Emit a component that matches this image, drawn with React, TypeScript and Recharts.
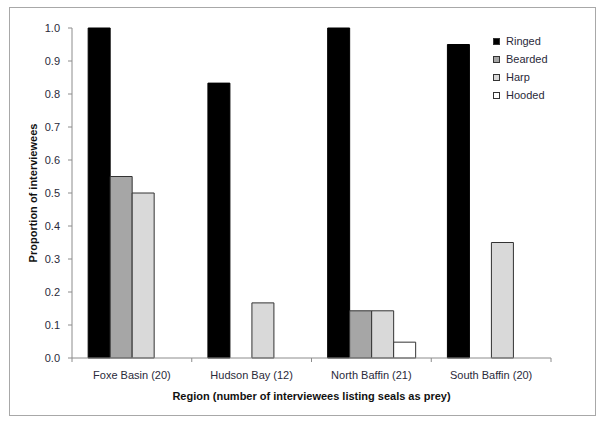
import React from 'react';
import { BarChart, Bar, XAxis, YAxis, Legend } from 'recharts';

const regions = ['Foxe Basin (20)', 'Hudson Bay (12)', 'North Baffin (21)', 'South Baffin (20)'];
const seriesNames = ['Ringed', 'Bearded', 'Harp', 'Hooded'];
const ringed = [1.0, 0.833, 1.0, 0.95];
const bearded = [0.55, 0, 0.143, 0];
const harp = [0.5, 0.167, 0.143, 0.35];
const hooded = [0, 0, 0.048, 0];
const yTicks = [0, 0.1, 0.2, 0.3, 0.4, 0.5, 0.6, 0.7, 0.8, 0.9, 1.0];

const data = regions.map((region, i) => ({
  region,
  Ringed: ringed[i],
  Bearded: bearded[i],
  Harp: harp[i],
  Hooded: hooded[i],
}));

const font = '"Liberation Sans", Arial, sans-serif';
const textColor = '#2a2a3a';
const axisColor = '#8c8c8c';
const TICK_SIZE = 4;
const TICK_MARGIN = 9;

const CategoryTick = (props: any) => {
  const { x, y, payload, index } = props;
  const half = payload.offset || 60;
  const axisY = y - TICK_SIZE - TICK_MARGIN;
  const isLast = index === regions.length - 1;
  return (
    <g>
      <line x1={x - half} y1={axisY} x2={x - half} y2={axisY + TICK_SIZE} stroke={axisColor} />
      {isLast && <line x1={x + half} y1={axisY} x2={x + half} y2={axisY + TICK_SIZE} stroke={axisColor} />}
      <text x={x} y={y} dy="0.71em" textAnchor="middle" fill={textColor} fontSize={11} fontFamily={font}>
        {payload.value}
      </text>
    </g>
  );
};

const SealLegend = ({ payload }: any) => {
  const items = [...(payload || [])].sort(
    (a: any, b: any) => seriesNames.indexOf(a.value) - seriesNames.indexOf(b.value)
  );
  return (
    <div style={{ fontFamily: font, fontSize: 11, color: textColor, whiteSpace: 'nowrap' }}>
      {items.map((entry: any) => (
        <div key={entry.value} style={{ display: 'flex', alignItems: 'center', height: 18 }}>
          <span
            style={{
              display: 'inline-block',
              flexShrink: 0,
              width: 5,
              height: 5,
              background: entry.color,
              border: '1px solid #333',
              marginRight: 6,
            }}
          />
          {entry.value}
        </div>
      ))}
    </div>
  );
};

const YTitle = ({ viewBox }: any) => {
  const cx = 33;
  const cy = viewBox.y + viewBox.height / 2;
  return (
    <text
      x={cx}
      y={cy}
      transform={`rotate(-90, ${cx}, ${cy})`}
      textAnchor="middle"
      dominantBaseline="central"
      fontFamily={font}
      fontSize={11}
      fontWeight="bold"
      fill="#111"
    >
      Proportion of interviewees
    </text>
  );
};

const App: React.FC = () => {
  return (
    <div style={{ position: 'absolute', left: 0, top: 0, width: 600, height: 421, background: '#fff' }}>
      <div
        style={{
          position: 'absolute',
          left: 9,
          top: 7,
          width: 585,
          height: 407,
          border: '1px solid #a8a8a8',
        }}
      />
      <BarChart
        width={600}
        height={421}
        data={data}
        margin={{ top: 28, right: 49, left: 0, bottom: 0 }}
        barCategoryGap="13.5%"
        barGap={0}
      >
        <XAxis
          dataKey="region"
          height={63}
          stroke={axisColor}
          tickLine={false}
          tickSize={TICK_SIZE}
          tickMargin={TICK_MARGIN}
          tick={<CategoryTick />}
          interval={0}
          label={{
            value: 'Region (number of interviewees listing seals as prey)',
            position: 'insideBottom',
            offset: 21,
            fontFamily: font,
            fontSize: 11,
            fontWeight: 'bold',
            fill: '#111',
          }}
        />
        <YAxis
          width={72}
          domain={[0, 1]}
          ticks={yTicks}
          interval={0}
          stroke={axisColor}
          tickSize={TICK_SIZE}
          tickMargin={8}
          tickFormatter={(v: number) => v.toFixed(1)}
          tick={{ fill: textColor, fontSize: 11, fontFamily: font }}
          label={{ content: <YTitle /> }}
        />
        <Legend
          layout="vertical"
          verticalAlign="top"
          align="right"
          content={<SealLegend />}
          wrapperStyle={{ top: 32, left: 493, width: 0, right: 'auto' }}
        />
        <Bar dataKey="Ringed" fill="#000000" stroke="#000" isAnimationActive={false} />
        <Bar dataKey="Bearded" fill="#a6a6a6" stroke="#333" isAnimationActive={false} />
        <Bar dataKey="Harp" fill="#d9d9d9" stroke="#333" isAnimationActive={false} />
        <Bar dataKey="Hooded" fill="#ffffff" stroke="#333" isAnimationActive={false} />
      </BarChart>
    </div>
  );
};

export default App;
